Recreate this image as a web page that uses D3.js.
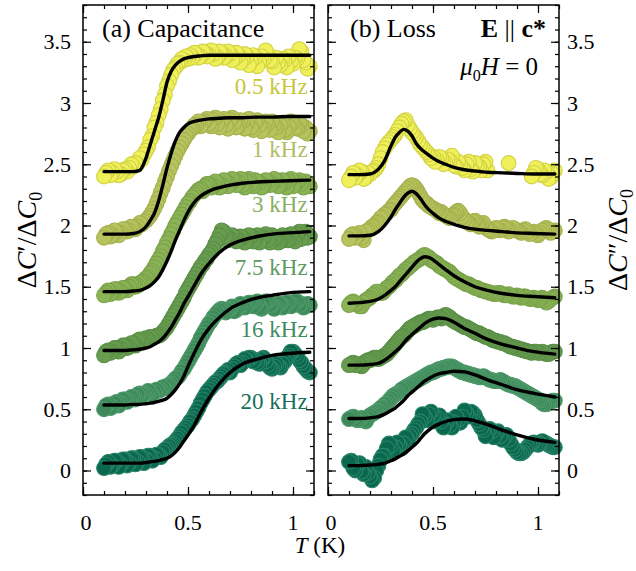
<!DOCTYPE html>
<html>
<head>
<meta charset="utf-8">
<script src="https://cdn.jsdelivr.net/npm/d3@7"></script>
<style>
  body { margin: 0; background: #fff; }
  svg { font-family: "Liberation Serif", "Times New Roman", serif; }
</style>
</head>
<body>
<div id="chart"></div>
<script>
// Temperatures (K) of the measured points, shared by every curve.
var tempK = [0.10, 0.11, 0.12, 0.13, 0.14, 0.15, 0.16, 0.17, 0.18, 0.19,
             0.20, 0.21, 0.22, 0.23, 0.24, 0.25, 0.26, 0.27, 0.28, 0.29,
             0.30, 0.31, 0.32, 0.33, 0.34, 0.35, 0.36, 0.37, 0.38, 0.39,
             0.40, 0.41, 0.42, 0.43, 0.44, 0.45, 0.46, 0.47, 0.48, 0.49,
             0.50, 0.51, 0.52, 0.53, 0.54, 0.55, 0.56, 0.57, 0.58, 0.59,
             0.60, 0.61, 0.62, 0.63, 0.64, 0.65, 0.66, 0.67, 0.68, 0.69,
             0.70, 0.71, 0.72, 0.73, 0.74, 0.75, 0.76, 0.77, 0.78, 0.79,
             0.80, 0.81, 0.82, 0.83, 0.84, 0.85, 0.86, 0.87, 0.88, 0.89,
             0.90, 0.91, 0.92, 0.93, 0.94, 0.95, 0.96, 0.97, 0.98, 0.99,
             1.00, 1.01, 1.02, 1.03, 1.04, 1.05, 1.06, 1.07, 1.08];

// Temperatures of the fit curves.
var fitT = [0.10, 0.15, 0.20, 0.24, 0.27, 0.30, 0.32, 0.34, 0.36, 0.38, 0.40, 0.42, 0.44,
            0.46, 0.48, 0.50, 0.53, 0.56, 0.60, 0.65, 0.70, 0.76, 0.83, 0.90, 0.98, 1.08];

var freqLabels = ["0.5 kHz", "1 kHz", "3 kHz", "7.5 kHz", "16 kHz", "20 kHz"];

// (a) capacitance, measured (offset curves)
var cap05 = [2.40, 2.43, 2.45, 2.41, 2.43, 2.46, 2.44, 2.41, 2.42, 2.45,
             2.46, 2.44, 2.47, 2.50, 2.48, 2.51, 2.50, 2.55, 2.54, 2.58,
             2.61, 2.64, 2.70, 2.73, 2.80, 2.84, 2.90, 2.95, 3.02, 3.07,
             3.14, 3.18, 3.23, 3.27, 3.29, 3.32, 3.33, 3.36, 3.35, 3.38,
             3.36, 3.39, 3.37, 3.41, 3.40, 3.37, 3.38, 3.42, 3.41, 3.38,
             3.39, 3.43, 3.40, 3.36, 3.37, 3.42, 3.41, 3.37, 3.38, 3.42,
             3.40, 3.35, 3.36, 3.41, 3.39, 3.33, 3.35, 3.40, 3.38, 3.31,
             3.34, 3.39, 3.37, 3.30, 3.33, 3.38, 3.36, 3.43, 3.40, 3.35,
             3.34, 3.29, 3.37, 3.33, 3.31, 3.36, 3.35, 3.29, 3.38, 3.34,
             3.32, 3.37, 3.36, 3.44, 3.42, 3.35, 3.33, 3.28, 3.30];
var cap1  = [1.90, 1.93, 1.94, 1.91, 1.92, 1.96, 1.95, 1.92, 1.94, 1.97,
             1.97, 1.95, 1.96, 1.99, 1.98, 1.97, 1.99, 2.02, 2.01, 2.03,
             2.04, 2.06, 2.08, 2.11, 2.14, 2.18, 2.22, 2.27, 2.31, 2.36,
             2.40, 2.45, 2.49, 2.53, 2.57, 2.61, 2.64, 2.67, 2.70, 2.73,
             2.75, 2.78, 2.79, 2.82, 2.82, 2.85, 2.81, 2.84, 2.85, 2.87,
             2.83, 2.81, 2.86, 2.88, 2.83, 2.80, 2.85, 2.87, 2.82, 2.79,
             2.86, 2.88, 2.84, 2.80, 2.81, 2.86, 2.85, 2.79, 2.83, 2.87,
             2.80, 2.78, 2.84, 2.86, 2.82, 2.77, 2.79, 2.85, 2.83, 2.78,
             2.85, 2.82, 2.80, 2.76, 2.82, 2.84, 2.78, 2.76, 2.81, 2.85,
             2.84, 2.80, 2.79, 2.83, 2.82, 2.77, 2.80, 2.75, 2.77];
var cap3  = [1.43, 1.45, 1.47, 1.44, 1.45, 1.48, 1.48, 1.45, 1.46, 1.49,
             1.49, 1.47, 1.50, 1.52, 1.52, 1.50, 1.51, 1.53, 1.54, 1.55,
             1.57, 1.58, 1.61, 1.63, 1.66, 1.69, 1.72, 1.75, 1.79, 1.82,
             1.86, 1.89, 1.93, 1.96, 2.00, 2.03, 2.06, 2.09, 2.12, 2.15,
             2.18, 2.20, 2.23, 2.25, 2.27, 2.29, 2.30, 2.28, 2.32, 2.34,
             2.34, 2.31, 2.32, 2.36, 2.35, 2.31, 2.33, 2.37, 2.36, 2.32,
             2.34, 2.38, 2.37, 2.33, 2.35, 2.38, 2.33, 2.31, 2.36, 2.38,
             2.34, 2.32, 2.37, 2.36, 2.35, 2.31, 2.32, 2.37, 2.36, 2.33,
             2.34, 2.38, 2.37, 2.32, 2.33, 2.37, 2.35, 2.31, 2.36, 2.38,
             2.32, 2.34, 2.35, 2.37, 2.34, 2.31, 2.36, 2.34, 2.32];
var cap75 = [0.94, 0.97, 0.98, 0.96, 0.97, 1.00, 1.00, 0.97, 0.99, 1.02,
             1.02, 1.00, 1.01, 1.04, 1.04, 1.02, 1.06, 1.07, 1.05, 1.07,
             1.08, 1.07, 1.09, 1.08, 1.09, 1.10, 1.10, 1.11, 1.13, 1.15,
             1.17, 1.20, 1.23, 1.26, 1.29, 1.32, 1.35, 1.38, 1.41, 1.45,
             1.48, 1.51, 1.54, 1.57, 1.60, 1.63, 1.66, 1.68, 1.71, 1.73,
             1.76, 1.78, 1.81, 1.85, 1.88, 1.92, 1.96, 1.95, 1.91, 1.88,
             1.89, 1.92, 1.91, 1.87, 1.88, 1.91, 1.90, 1.86, 1.87, 1.92,
             1.91, 1.87, 1.89, 1.92, 1.86, 1.88, 1.90, 1.93, 1.88, 1.86,
             1.92, 1.90, 1.89, 1.86, 1.87, 1.92, 1.91, 1.88, 1.88, 1.93,
             1.90, 1.87, 1.93, 1.95, 1.89, 1.92, 1.95, 1.90, 1.91];
var cap16 = [0.50, 0.53, 0.54, 0.51, 0.52, 0.55, 0.56, 0.53, 0.55, 0.58,
             0.58, 0.56, 0.57, 0.60, 0.60, 0.58, 0.62, 0.63, 0.61, 0.62,
             0.63, 0.65, 0.64, 0.62, 0.64, 0.66, 0.65, 0.66, 0.68, 0.67,
             0.69, 0.70, 0.71, 0.73, 0.75, 0.76, 0.78, 0.81, 0.83, 0.86,
             0.89, 0.92, 0.95, 0.98, 1.01, 1.04, 1.08, 1.11, 1.14, 1.17,
             1.20, 1.22, 1.25, 1.27, 1.29, 1.31, 1.32, 1.30, 1.29, 1.31,
             1.32, 1.34, 1.30, 1.31, 1.33, 1.36, 1.35, 1.33, 1.34, 1.37,
             1.37, 1.34, 1.35, 1.38, 1.33, 1.32, 1.36, 1.38, 1.38, 1.35,
             1.35, 1.32, 1.33, 1.36, 1.36, 1.33, 1.34, 1.37, 1.37, 1.34,
             1.35, 1.38, 1.38, 1.35, 1.36, 1.33, 1.34, 1.36, 1.35];
var cap20 = [0.02, 0.05, 0.07, 0.03, 0.04, 0.08, 0.08, 0.03, 0.05, 0.09,
             0.09, 0.04, 0.06, 0.10, 0.10, 0.05, 0.07, 0.11, 0.11, 0.06,
             0.09, 0.12, 0.12, 0.08, 0.10, 0.13, 0.13, 0.11, 0.15, 0.17,
             0.18, 0.20, 0.21, 0.22, 0.24, 0.26, 0.28, 0.31, 0.33, 0.35,
             0.37, 0.40, 0.42, 0.45, 0.48, 0.51, 0.55, 0.58, 0.61, 0.64,
             0.66, 0.68, 0.70, 0.72, 0.73, 0.75, 0.77, 0.79, 0.80, 0.82,
             0.80, 0.83, 0.85, 0.87, 0.88, 0.86, 0.88, 0.91, 0.90, 0.92,
             0.92, 0.89, 0.90, 0.88, 0.87, 0.91, 0.92, 0.89, 0.86, 0.84,
             0.83, 0.85, 0.87, 0.85, 0.84, 0.87, 0.89, 0.92, 0.94, 0.97,
             0.97, 0.95, 0.93, 0.90, 0.88, 0.85, 0.83, 0.81, 0.80];

// (a) capacitance, fits
var capFit05 = [2.44, 2.44, 2.44, 2.44, 2.45, 2.55, 2.66, 2.77, 2.88, 3.02, 3.17, 3.26, 3.31,
                3.34, 3.36, 3.37, 3.38, 3.385, 3.39, 3.39, 3.39, 3.39, 3.39, 3.39, 3.39, 3.39];
var capFit1  = [1.93, 1.93, 1.93, 1.935, 1.95, 1.99, 2.04, 2.10, 2.20, 2.33, 2.47, 2.59, 2.69,
                2.76, 2.80, 2.83, 2.85, 2.86, 2.87, 2.875, 2.88, 2.88, 2.885, 2.885, 2.89, 2.89];
var capFit3  = [1.46, 1.46, 1.46, 1.465, 1.47, 1.49, 1.51, 1.54, 1.58, 1.64, 1.71, 1.79, 1.88,
                1.96, 2.04, 2.11, 2.19, 2.24, 2.28, 2.31, 2.33, 2.345, 2.355, 2.36, 2.365, 2.37];
var capFit75 = [0.98, 0.98, 0.98, 0.985, 0.99, 1.00, 1.01, 1.03, 1.05, 1.08, 1.12, 1.17, 1.23,
                1.29, 1.36, 1.42, 1.51, 1.60, 1.69, 1.78, 1.84, 1.88, 1.91, 1.93, 1.94, 1.95];
var capFit16 = [0.535, 0.535, 0.535, 0.54, 0.54, 0.545, 0.55, 0.555, 0.565, 0.575, 0.59, 0.62, 0.66,
                0.71, 0.77, 0.85, 0.96, 1.06, 1.16, 1.25, 1.32, 1.37, 1.41, 1.43, 1.45, 1.46];
var capFit20 = [0.06, 0.06, 0.06, 0.06, 0.06, 0.065, 0.07, 0.075, 0.08, 0.09, 0.10, 0.12, 0.15,
                0.19, 0.24, 0.29, 0.37, 0.47, 0.59, 0.71, 0.80, 0.87, 0.91, 0.94, 0.955, 0.965];

// (b) loss, measured (null = no point)
var loss05 = [2.37, 2.40, 2.43, 2.39, 2.41, 2.45, 2.44, 2.38, 2.39, 2.43,
              2.42, 2.44, 2.45, 2.47, 2.50, 2.55, 2.60, 2.63, 2.66, 2.68,
              2.70, 2.72, 2.74, 2.77, 2.80, 2.83, 2.85, 2.86, 2.82, 2.79,
              2.76, 2.74, 2.72, 2.69, 2.66, 2.64, 2.62, 2.60, 2.58, 2.55,
              2.56, 2.52, 2.53, 2.56, 2.55, 2.50, 2.51, 2.54, 2.53, 2.57,
              2.49, 2.48, 2.52, 2.50, 2.47, 2.45, 2.50, 2.52, 2.46, 2.44,
              2.51, 2.49, 2.48, 2.45, 2.50, 2.52, 2.45, null, null, null,
              null, null, null, null, null, null, 2.51, null, null, null,
              null, null, null, null, null, null, null, 2.40, 2.43, 2.47,
              2.46, 2.42, 2.41, 2.45, 2.44, 2.38, 2.39, 2.42, 2.45];
var loss1  = [1.89, 1.92, 1.93, 1.90, 1.91, 1.94, 1.90, 1.88, 1.95, 1.96,
              1.97, 1.99, 2.00, 2.02, 2.03, 2.06, 2.07, 2.09, 2.10, 2.12,
              2.13, 2.16, 2.18, 2.20, 2.22, 2.24, 2.26, 2.28, 2.30, 2.32,
              2.33, 2.32, 2.30, 2.27, 2.24, 2.21, 2.19, 2.18, 2.16, 2.15,
              2.14, 2.13, 2.12, 2.10, 2.11, 2.09, 2.08, 2.07, 2.06, 2.08,
              2.09, 2.11, 2.12, 2.10, 2.07, 2.05, 2.03, 2.02, 2.01, 2.03,
              2.04, 2.01, 1.99, 2.00, 2.02, 1.99, 1.97, 1.96, 1.95, 1.97,
              1.98, 1.97, 1.96, 1.98, 1.99, 1.97, 1.95, 1.96, 1.98, 1.97,
              1.96, 1.95, 1.94, 1.96, 1.97, 1.95, 1.93, 1.94, 1.95, 1.93,
              1.92, 1.94, 1.96, 1.97, 1.98, 1.96, 1.94, 1.95, 1.96];
var loss3  = [1.35, 1.37, 1.38, 1.36, 1.36, 1.34, 1.34, 1.37, 1.39, 1.40,
              1.41, 1.43, 1.44, 1.46, 1.46, 1.45, 1.45, 1.47, 1.49, 1.50,
              1.52, 1.54, 1.55, 1.57, 1.59, 1.60, 1.62, 1.64, 1.65, 1.67,
              1.68, 1.70, 1.71, 1.72, 1.73, 1.75, 1.76, 1.75, 1.74, 1.72,
              1.71, 1.70, 1.69, 1.67, 1.66, 1.65, 1.64, 1.63, 1.62, 1.60,
              1.58, 1.57, 1.56, 1.55, 1.54, 1.53, 1.52, 1.52, 1.51, 1.50,
              1.49, 1.49, 1.48, 1.47, 1.47, 1.46, 1.46, 1.45, 1.45, 1.44,
              1.44, 1.45, 1.45, 1.44, 1.43, 1.43, 1.44, 1.43, 1.42, 1.42,
              1.43, 1.42, 1.41, 1.42, 1.42, 1.41, 1.40, 1.40, 1.41, 1.40,
              1.39, 1.40, 1.41, 1.39, 1.37, 1.38, 1.40, 1.41, 1.42];
var loss75 = [0.86, 0.87, 0.88, 0.86, 0.87, 0.86, 0.85, 0.87, 0.89, 0.90,
              0.90, 0.91, 0.92, 0.92, 0.91, 0.92, 0.93, 0.94, 0.95, 0.97,
              0.99, 1.01, 1.03, 1.05, 1.07, 1.09, 1.10, 1.12, 1.14, 1.16,
              1.17, 1.18, 1.19, 1.20, 1.21, 1.21, 1.22, 1.23, 1.24, 1.24,
              1.23, 1.24, 1.25, 1.25, 1.24, 1.26, 1.27, 1.26, 1.25, 1.23,
              1.22, 1.21, 1.20, 1.19, 1.18, 1.17, 1.17, 1.16, 1.15, 1.14,
              1.13, 1.12, 1.12, 1.11, 1.10, 1.09, 1.09, 1.08, 1.07, 1.06,
              1.06, 1.05, 1.05, 1.04, 1.04, 1.03, 1.02, 1.01, 1.01, 1.00,
              1.00, 0.99, 0.99, 0.98, 0.98, 0.97, 0.97, 0.96, 0.97, 0.97,
              0.96, 0.96, 0.97, 0.96, 0.95, 0.95, 0.96, 0.97, 0.97];
var loss16 = [0.42, 0.43, 0.44, 0.42, 0.41, 0.42, 0.43, 0.41, 0.40, 0.43,
              0.45, 0.46, 0.47, 0.48, 0.49, 0.51, 0.52, 0.54, 0.55, 0.57,
              0.59, 0.61, 0.62, 0.63, 0.64, 0.66, 0.67, 0.68, 0.69, 0.70,
              0.71, 0.72, 0.73, 0.74, 0.75, 0.76, 0.77, 0.78, 0.79, 0.80,
              0.80, 0.81, 0.82, 0.83, 0.83, 0.84, 0.84, 0.85, 0.85, 0.85,
              0.84, 0.83, 0.82, 0.81, 0.80, 0.80, 0.79, 0.79, 0.78, 0.78,
              0.77, 0.77, 0.76, 0.76, 0.77, 0.76, 0.75, 0.74, 0.74, 0.73,
              0.73, 0.73, 0.74, 0.73, 0.72, 0.71, 0.70, 0.70, 0.69, 0.69,
              0.68, 0.67, 0.66, 0.65, 0.64, 0.63, 0.62, 0.61, 0.60, 0.59,
              0.58, 0.57, 0.55, 0.54, 0.54, 0.55, 0.56, 0.57, 0.57];
var loss20 = [0.07, 0.08, 0.02, 0.00, 0.05, 0.06, -0.01, -0.03, 0.03, -0.02,
              -0.05, -0.08, -0.06, 0.00, 0.04, 0.09, 0.12, 0.12, 0.18, 0.22,
              0.20, 0.16, 0.19, 0.23, 0.21, 0.18, 0.22, 0.27, 0.25, 0.28,
              0.30, 0.33, 0.35, 0.38, 0.40, 0.46, 0.44, 0.41, 0.46, 0.48,
              0.45, 0.40, 0.43, 0.45, 0.40, 0.35, 0.38, 0.41, 0.37, 0.35,
              0.39, 0.44, 0.41, 0.39, 0.44, 0.49, 0.47, 0.44, 0.48, 0.47,
              0.45, 0.41, 0.38, 0.35, 0.33, 0.28, 0.31, 0.34, 0.32, 0.27,
              0.30, 0.32, 0.28, 0.25, 0.27, 0.29, 0.25, 0.22, 0.19, 0.17,
              0.15, 0.14, 0.14, 0.15, 0.17, 0.19, 0.21, 0.22, 0.23, 0.22,
              0.21, 0.22, 0.24, 0.23, 0.22, 0.21, 0.20, 0.19, 0.19];

// (b) loss, fits
var lossFit05 = [2.415, 2.415, 2.42, 2.46, 2.53, 2.65, 2.72, 2.76, 2.785, 2.77, 2.73, 2.67, 2.63,
                 2.60, 2.575, 2.55, 2.52, 2.50, 2.475, 2.455, 2.445, 2.435, 2.43, 2.425, 2.42, 2.42];
var lossFit1  = [1.915, 1.915, 1.92, 1.95, 2.00, 2.07, 2.13, 2.18, 2.23, 2.265, 2.28, 2.26, 2.22,
                 2.17, 2.13, 2.10, 2.06, 2.035, 2.01, 1.985, 1.97, 1.96, 1.95, 1.94, 1.935, 1.93];
var lossFit3  = [1.365, 1.37, 1.38, 1.40, 1.43, 1.47, 1.50, 1.54, 1.58, 1.62, 1.66, 1.70, 1.73,
                 1.745, 1.74, 1.72, 1.68, 1.64, 1.59, 1.54, 1.50, 1.47, 1.445, 1.43, 1.42, 1.41];
var lossFit75 = [0.86, 0.86, 0.865, 0.875, 0.90, 0.94, 0.97, 1.00, 1.04, 1.08, 1.11, 1.14, 1.17,
                 1.20, 1.22, 1.235, 1.245, 1.24, 1.21, 1.16, 1.12, 1.07, 1.03, 1.00, 0.97, 0.95];
var lossFit16 = [0.425, 0.425, 0.43, 0.44, 0.46, 0.49, 0.51, 0.54, 0.57, 0.61, 0.64, 0.67, 0.70,
                 0.73, 0.75, 0.77, 0.79, 0.80, 0.81, 0.805, 0.78, 0.74, 0.70, 0.66, 0.63, 0.60];
var lossFit20 = [0.04, 0.04, 0.045, 0.05, 0.06, 0.08, 0.095, 0.115, 0.135, 0.16, 0.19, 0.22, 0.26,
                 0.30, 0.33, 0.355, 0.38, 0.40, 0.415, 0.42, 0.405, 0.375, 0.33, 0.29, 0.255, 0.23];

// Axis ticks
var xTicks = [0, 0.5, 1];
var xTickLabels = ["0", "0.5", "1"];
var yTicks = [0, 0.5, 1, 1.5, 2, 2.5, 3, 3.5];
var yTickLabels = ["0", "0.5", "1", "1.5", "2", "2.5", "3", "3.5"];

// Styles
var fills  = ["#eff05a", "#b7c35c", "#8cb356", "#689d50", "#3d895a", "#0a684f"];
var edges  = ["#d2d244", "#a4b14f", "#7aa34b", "#5a8f47", "#4f9a6b", "#2a8467"];
var labelC = ["#c6c63a", "#b0bd63", "#88b062", "#5e9a62", "#3f8c60", "#167059"];
var labelLevel = [3.07, 2.56, 2.11, 1.60, 1.09, 0.50];

var W = 636, H = 571;
var panelW = 231, plotTop = 5, plotBottom = 495;

var svg = d3.select("#chart").append("svg")
    .attr("width", W)
    .attr("height", H);

var y = d3.scaleLinear().domain([-0.2, 3.8]).range([plotBottom, plotTop]);

function drawPanel(x0, meas, fits, side) {
    var x = d3.scaleLinear().domain([0, 1.1]).range([x0, x0 + panelW]);
    var g = svg.append("g");

    // measured points
    meas.forEach(function(vals, i) {
        var pts = tempK.map(function(t, j) { return [t, vals[j]]; })
            .filter(function(d) { return d[1] !== null; });
        g.append("g").selectAll("circle").data(pts.reverse()).enter().append("circle")
            .attr("cx", function(d) { return x(d[0]); })
            .attr("cy", function(d) { return y(d[1]); })
            .attr("r", 7.4)
            .attr("fill", fills[i])
            .attr("stroke", edges[i])
            .attr("stroke-width", 1.1);
    });

    // fits
    var line = d3.line()
        .x(function(d) { return x(d[0]); })
        .y(function(d) { return y(d[1]); })
        .curve(d3.curveMonotoneX);
    fits.forEach(function(vals) {
        g.append("path")
            .datum(fitT.map(function(t, j) { return [t, vals[j]]; }))
            .attr("d", line)
            .attr("fill", "none")
            .attr("stroke", "#000")
            .attr("stroke-width", 3.4)
            .attr("stroke-linecap", "round");
    });

    // inward ticks on all four sides
    var yMinor = y.ticks(40), xMinor = x.ticks(11);
    function ticks(axis, tx, ty, vals, size) {
        var a = g.append("g")
            .attr("transform", "translate(" + tx + "," + ty + ")")
            .call(axis.tickValues(vals).tickSize(-size).tickFormat(""));
        a.select(".domain").remove();
        a.selectAll("line").attr("stroke", "#000").attr("stroke-width", 1.2);
    }
    ticks(d3.axisLeft(y), x0, 0, yTicks, 8);
    ticks(d3.axisLeft(y), x0, 0, yMinor, 4);
    ticks(d3.axisRight(y), x0 + panelW, 0, yTicks, 8);
    ticks(d3.axisRight(y), x0 + panelW, 0, yMinor, 4);
    ticks(d3.axisBottom(x), 0, plotBottom, xTicks, 8);
    ticks(d3.axisBottom(x), 0, plotBottom, xMinor, 4);
    ticks(d3.axisTop(x), 0, plotTop, xTicks, 8);
    ticks(d3.axisTop(x), 0, plotTop, xMinor, 4);

    // frame
    g.append("rect")
        .attr("x", x0).attr("y", plotTop)
        .attr("width", panelW).attr("height", plotBottom - plotTop)
        .attr("fill", "none").attr("stroke", "#000").attr("stroke-width", 1.5);

    // tick labels
    g.selectAll(".xl").data(xTicks).enter().append("text")
        .attr("x", function(d) { return x(d) + (d === 0 ? 3 : 0); })
        .attr("y", 530)
        .attr("text-anchor", "middle")
        .attr("font-size", 22)
        .text(function(d, i) { return xTickLabels[i]; });

    g.selectAll(".yl").data(yTicks).enter().append("text")
        .attr("x", side === "left" ? x0 - 12 : x0 + panelW + 8)
        .attr("y", function(d) { return y(d); })
        .attr("dy", "0.35em")
        .attr("text-anchor", side === "left" ? "end" : "start")
        .attr("font-size", 22)
        .text(function(d, i) { return yTickLabels[i]; });

    return x;
}

var xa = drawPanel(83, [cap05, cap1, cap3, cap75, cap16, cap20],
    [capFit05, capFit1, capFit3, capFit75, capFit16, capFit20], "left");
drawPanel(328, [loss05, loss1, loss3, loss75, loss16, loss20],
    [lossFit05, lossFit1, lossFit3, lossFit75, lossFit16, lossFit20], "right");

// frequency labels
svg.selectAll(".fl").data(freqLabels).enter().append("text")
    .attr("x", xa(1.07))
    .attr("y", function(d, i) { return y(labelLevel[i]); })
    .attr("text-anchor", "end")
    .attr("font-size", 23)
    .attr("fill", function(d, i) { return labelC[i]; })
    .text(function(d) { return d; });

// panel titles
svg.append("text").attr("x", 102).attr("y", 37).attr("font-size", 26)
    .text("(a) Capacitance");
svg.append("text").attr("x", 350).attr("y", 37).attr("font-size", 26)
    .text("(b) Loss");

var eTxt = svg.append("text").attr("x", 546).attr("y", 37)
    .attr("font-size", 26).attr("text-anchor", "end");
eTxt.append("tspan").attr("font-weight", "bold").text("E");
eTxt.append("tspan").text(" || ");
eTxt.append("tspan").attr("font-weight", "bold").text("c*");

var hTxt = svg.append("text").attr("x", 538).attr("y", 75)
    .attr("font-size", 25).attr("text-anchor", "end");
hTxt.append("tspan").attr("font-style", "italic").text("μ");
hTxt.append("tspan").attr("font-size", 16).attr("dy", 6).text("0");
hTxt.append("tspan").attr("font-style", "italic").attr("dy", -6).text("H");
hTxt.append("tspan").text(" = 0");

// axis titles
function yTitle(tx, prime) {
    var t = svg.append("text")
        .attr("transform", "translate(" + tx + ",240) rotate(-90)")
        .attr("text-anchor", "middle")
        .attr("font-size", 28);
    t.append("tspan").text("Δ");
    t.append("tspan").attr("font-style", "italic").text("C");
    t.append("tspan").text(prime + "/Δ");
    t.append("tspan").attr("font-style", "italic").text("C");
    t.append("tspan").attr("font-size", 18).attr("dy", 6).text("0");
}
yTitle(36, "′");
yTitle(627, "″");

var xt = svg.append("text").attr("x", 320).attr("y", 553)
    .attr("text-anchor", "middle").attr("font-size", 23);
xt.append("tspan").attr("font-style", "italic").text("T");
xt.append("tspan").text(" (K)");
</script>
</body>
</html>
